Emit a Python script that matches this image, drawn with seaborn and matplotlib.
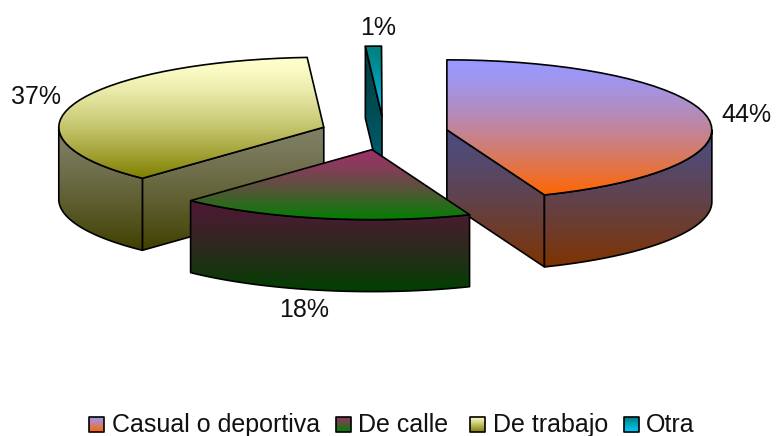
import numpy as np
import matplotlib
matplotlib.use("Agg")
import matplotlib.pyplot as plt
from matplotlib.patches import Polygon
import seaborn as sns

categories = ["Casual o deportiva", "De calle", "De trabajo", "Otra"]
shares = [44, 18, 37, 1]
top_colors = ["#9999FF", "#993366", "#FFFFCC", "#008080"]
bottom_colors = ["#FF6600", "#008000", "#808000", "#00CCFF"]

sns.set_theme(style="white")
plt.rcParams["font.family"] = ["Liberation Sans", "DejaVu Sans"]

# Projection of the exploded pie, in pixel units of the canvas
CX, CY = 384, 133
RX, RY = 265, 70
TILT = RY / RX
EXPLODE = 64
DEPTH = 72
SHADE = 0.5
EDGE = 1.2
FONT_SIZE = 18.0
EASE_TOP = 1.4
EASE_SIDE = 1.3

fig = plt.figure(figsize=(7.76, 4.36), dpi=100)
ax = fig.add_axes([0, 0, 1, 1])
ax.set_axis_off()

layer = [1]


def gradient_patch(verts, c0, c1, span=None, ease=EASE_TOP, lw=EDGE):
    verts = np.asarray(verts)
    x0, x1 = verts[:, 0].min(), verts[:, 0].max()
    y0, y1 = span if span else (verts[:, 1].min(), verts[:, 1].max())
    palette = np.array(sns.blend_palette([c0, c1], n_colors=256))[:, :3]
    steps = (np.linspace(0, 1, 128) ** ease * 255).astype(int)
    ramp = palette[steps][:, None, :]
    im = ax.imshow(ramp, extent=(x0, x1, y1, y0), aspect="auto",
                   interpolation="bilinear", zorder=layer[0])
    patch = Polygon(verts, closed=True, fc="none", ec="black", lw=lw,
                    joinstyle="round", zorder=layer[0] + 0.5)
    ax.add_patch(patch)
    im.set_clip_path(patch)
    layer[0] += 1


def rim(apex, angles):
    t = np.radians(angles)
    return np.column_stack([apex[0] + RX * np.sin(t), apex[1] - RY * np.cos(t)])


def dark(color):
    return tuple(SHADE * c for c in matplotlib.colors.to_rgb(color))


def draw_slice(i, start, stop):
    mid = np.radians((start + stop) / 2)
    apex = np.array([CX + EXPLODE * np.sin(mid), CY - EXPLODE * TILT * np.cos(mid)])
    drop = np.array([0, DEPTH])
    arc = rim(apex, np.arange(start, stop + 1e-6, max((stop - start) / 40, 0.25)))
    c0, c1 = top_colors[i], bottom_colors[i]
    faces = []
    # Flat cut faces that turn towards the viewer
    if np.sin(np.radians(start)) < -1e-6:
        faces.append(np.array([apex, arc[0], arc[0] + drop, apex + drop]))
    if np.sin(np.radians(stop)) > 1e-6:
        faces.append(np.array([apex, arc[-1], arc[-1] + drop, apex + drop]))
    # Curved outer wall on the front half of the ellipse
    lo, hi = max(start, 90), min(stop, 270)
    if lo < hi:
        wall = rim(apex, np.linspace(lo, hi, 40))
        faces.append(np.vstack([wall, wall[::-1] + drop]))
    if faces:
        ys = np.vstack(faces)[:, 1]
        span = (ys.min(), ys.max())
        for face in faces:
            gradient_patch(face, dark(c0), dark(c1), span, ease=EASE_SIDE)
    gradient_patch(np.vstack([[apex], arc]), c0, c1)


edges = np.cumsum([0] + shares) * 360 / sum(shares)
for i in [3, 2, 0, 1]:
    draw_slice(i, edges[i], edges[i + 1])

# Percentage labels beside each slice
label_xy = [(746, 115), (304, 310), (36, 97), (378, 28)]
for share, (x, y) in zip(shares, label_xy):
    ax.text(x, y, f"{share:.0f}%", fontsize=FONT_SIZE, color="#111111",
            ha="center", va="center", zorder=50)

# Legend row along the bottom edge
swatch_x = [89, 336, 470, 624]
text_x = [112, 358, 493, 646]
for i, name in enumerate(categories):
    layer[0] = 60
    x = swatch_x[i]
    gradient_patch([(x, 417), (x + 15, 417), (x + 15, 432), (x, 432)],
                   top_colors[i], bottom_colors[i], ease=1.0)
    ax.text(text_x[i], 424.5, name, fontsize=FONT_SIZE, color="#111111",
            ha="left", va="center", zorder=70)

ax.set_xlim(0, 776)
ax.set_ylim(436, 0)
fig.savefig("out.png", dpi=100, facecolor="white")
